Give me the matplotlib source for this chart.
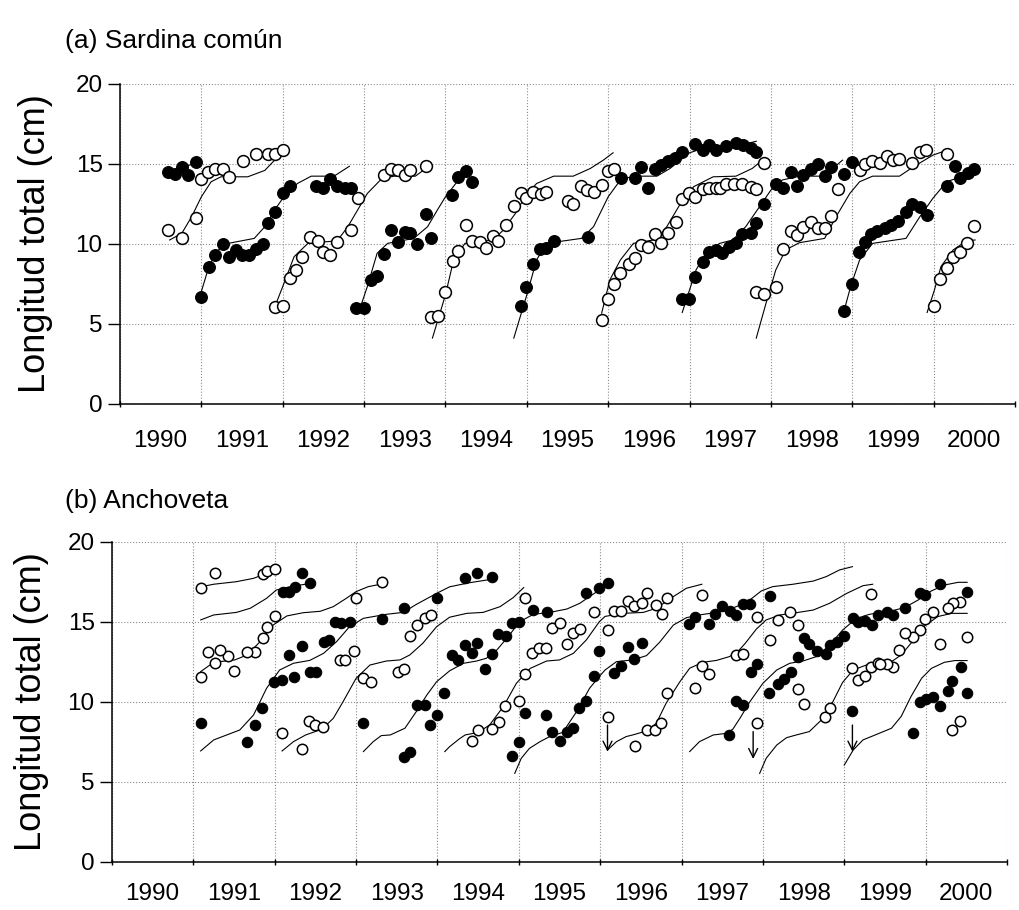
import matplotlib as mpl
import matplotlib.pyplot as plt
from matplotlib.ticker import FixedLocator, NullFormatter, FixedFormatter
# -------------------------------------------------------------------------------------------------

mpl.use('AGG')
plt.rcParams['font.family'] = ['Liberation Sans', 'DejaVu Sans']

year_labels = ['1990', '1991', '1992', '1993', '1994', '1995',
	'1996', '1997', '1998', '1999', '2000']

# (a) Sardina común: mean length by sample (year, cm)
sardina_filled = [
	(1990.59, 14.5), (1990.67, 14.37), (1990.76, 14.8), (1990.84, 14.3), (1990.93, 15.1),
	(1991.0, 6.67), (1991.09, 8.59), (1991.17, 9.3), (1991.27, 10.0), (1991.34, 9.17),
	(1991.42, 9.63), (1991.5, 9.3), (1991.58, 9.3), (1991.67, 9.67), (1991.76, 10.0),
	(1991.82, 11.3), (1991.91, 12.0), (1992.0, 13.16), (1992.09, 13.6), (1992.41, 13.6),
	(1992.5, 13.5), (1992.58, 14.05), (1992.67, 13.6), (1992.76, 13.5), (1992.84, 13.5),
	(1992.9, 5.97), (1993.0, 5.97), (1993.09, 7.75), (1993.16, 8.0), (1993.24, 9.4),
	(1993.33, 10.9), (1993.42, 10.1), (1993.5, 10.77), (1993.57, 10.67), (1993.65, 10.0),
	(1993.76, 11.9), (1993.82, 10.4), (1994.08, 13.06), (1994.16, 14.2), (1994.25, 14.55),
	(1994.33, 13.9),
	(1994.93, 6.15), (1994.99, 7.3), (1995.08, 8.75), (1995.16, 9.67), (1995.23, 9.73),
	(1995.33, 10.2), (1995.75, 10.46), (1996.16, 14.14), (1996.33, 14.14), (1996.4, 14.82),
	(1996.49, 13.47), (1996.58, 14.68), (1996.65, 14.93), (1996.73, 15.2), (1996.82, 15.38),
	(1996.91, 15.76), (1997.07, 16.24), (1997.16, 15.86), (1997.24, 16.17), (1997.33, 15.9),
	(1997.45, 16.1), (1997.57, 16.3), (1997.66, 16.17), (1997.75, 16.03), (1997.82, 15.76),
	(1996.91, 6.57), (1996.99, 6.57), (1997.07, 7.92), (1997.16, 8.9), (1997.24, 9.52),
	(1997.33, 9.63), (1997.4, 9.42), (1997.49, 9.83), (1997.57, 10.08), (1997.65, 10.6),
	(1997.75, 10.67), (1997.82, 11.29), (1997.92, 12.5), (1998.06, 13.72), (1998.15, 13.47),
	(1998.25, 14.5), (1998.32, 13.6), (1998.4, 14.3), (1998.49, 14.66), (1998.58, 15.03),
	(1998.66, 14.24), (1998.74, 14.82), (1998.9, 14.4), (1999.0, 15.1),
	(1998.9, 5.84), (1999.0, 7.48), (1999.08, 9.52), (1999.16, 10.1), (1999.23, 10.62),
	(1999.31, 10.83), (1999.4, 10.98), (1999.48, 11.18), (1999.56, 11.46), (1999.66, 12.0),
	(1999.73, 12.5), (1999.83, 12.29), (1999.92, 11.8), (2000.16, 13.6), (2000.26, 14.9),
	(2000.33, 14.1), (2000.42, 14.45), (2000.5, 14.7),
]
sardina_open = [
	(1990.59, 10.9), (1990.76, 10.4), (1990.93, 11.6), (1991.0, 14.05), (1991.08, 14.5),
	(1991.17, 14.7), (1991.27, 14.7), (1991.34, 14.2), (1991.51, 15.2), (1991.67, 15.65),
	(1991.82, 15.6), (1991.9, 15.6), (1992.0, 15.9),
	(1991.9, 6.05), (1992.0, 6.15), (1992.09, 7.86), (1992.16, 8.38), (1992.24, 9.2),
	(1992.34, 10.46), (1992.43, 10.19), (1992.5, 9.52), (1992.58, 9.31), (1992.67, 10.1),
	(1992.84, 10.9), (1992.92, 12.9), (1993.24, 14.3), (1993.33, 14.7), (1993.42, 14.6),
	(1993.5, 14.3), (1993.57, 14.6), (1993.76, 14.9),
	(1993.82, 5.43), (1993.91, 5.5), (1994.0, 7.0), (1994.09, 8.94), (1994.16, 9.56),
	(1994.25, 11.2), (1994.33, 10.19), (1994.42, 10.1), (1994.5, 9.77), (1994.59, 10.5),
	(1994.65, 10.2), (1994.74, 11.2), (1994.84, 12.4), (1994.93, 13.16), (1994.99, 12.9),
	(1995.08, 13.26), (1995.17, 13.1), (1995.23, 13.26), (1995.51, 12.7), (1995.57, 12.5),
	(1995.66, 13.6), (1995.74, 13.37), (1995.82, 13.26), (1995.92, 13.68), (1996.0, 14.55),
	(1996.07, 14.7),
	(1995.92, 5.26), (1996.0, 6.57), (1996.07, 7.48), (1996.15, 8.17), (1996.25, 8.73),
	(1996.33, 9.1), (1996.4, 9.94), (1996.49, 9.83), (1996.58, 10.6), (1996.65, 10.08),
	(1996.73, 10.7), (1996.83, 11.35), (1996.91, 12.8), (1996.99, 13.16), (1997.07, 12.95),
	(1997.16, 13.43), (1997.24, 13.47), (1997.33, 13.47), (1997.37, 13.53), (1997.45, 13.72),
	(1997.55, 13.72), (1997.65, 13.78), (1997.75, 13.58), (1997.82, 13.43), (1997.92, 15.07),
	(1997.82, 7.03), (1997.91, 6.88), (1998.06, 7.3), (1998.15, 9.67), (1998.25, 10.81),
	(1998.32, 10.56), (1998.4, 11.04), (1998.49, 11.39), (1998.58, 11.02), (1998.66, 11.02),
	(1998.74, 11.77), (1998.83, 13.41), (1999.09, 14.6), (1999.16, 14.97), (1999.24, 15.2),
	(1999.34, 15.07), (1999.43, 15.5), (1999.5, 15.24), (1999.58, 15.3), (1999.74, 15.07),
	(1999.83, 15.76), (1999.91, 15.86), (2000.16, 15.6),
	(2000.0, 6.15), (2000.08, 7.8), (2000.16, 8.48), (2000.24, 9.17), (2000.33, 9.48),
	(2000.41, 10.08), (2000.5, 11.12),
]
# growth curves, one per cohort
sardina_curves = [
	[(1990.70, 14.6), (1990.98, 15.2)],
	[(1990.61, 10.25), (1990.76, 10.67), (1990.88, 11.7), (1991.0, 12.95), (1991.12, 13.89),
	 (1991.24, 14.2), (1991.57, 14.2), (1991.78, 14.6), (1991.9, 15.24), (1992.0, 15.76)],
	[(1991.0, 7.03), (1991.08, 8.38), (1991.18, 9.52), (1991.33, 10.04), (1991.65, 10.35),
	 (1991.78, 11.08), (1991.9, 12.12), (1992.0, 12.85), (1992.18, 13.78), (1992.35, 14.24),
	 (1992.63, 14.24), (1992.82, 14.86)],
	[(1991.92, 6.3), (1992.0, 7.34), (1992.14, 9.21), (1992.31, 10.04), (1992.67, 10.2),
	 (1992.8, 11.08), (1993.04, 13.16), (1993.22, 14.1), (1993.37, 14.24), (1993.63, 14.24),
	 (1993.78, 14.8)],
	[(1992.95, 5.99), (1993.04, 7.34), (1993.16, 9.42), (1993.29, 10.04), (1993.61, 10.35),
	 (1993.78, 11.08), (1993.9, 12.12), (1994.0, 12.95), (1994.16, 14.0), (1994.27, 14.3)],
	[(1993.84, 4.12), (1994.0, 6.82), (1994.1, 9.0), (1994.24, 10.04), (1994.59, 10.25),
	 (1994.71, 10.87), (1994.86, 11.91), (1994.99, 13.06), (1995.12, 13.78), (1995.33, 14.24),
	 (1995.57, 14.24), (1995.78, 14.72), (1995.94, 15.24), (1996.06, 15.7)],
	[(1994.84, 4.12), (1995.0, 6.82), (1995.12, 9.0), (1995.24, 10.04), (1995.67, 10.35),
	 (1995.82, 11.08), (1996.0, 12.95), (1996.15, 14.0), (1996.31, 14.24), (1996.6, 14.24),
	 (1996.76, 14.72), (1997.0, 15.7), (1997.12, 15.9), (1997.36, 16.1), (1997.61, 16.17),
	 (1997.82, 16.42)],
	[(1995.92, 5.68), (1996.02, 7.75), (1996.15, 9.0), (1996.31, 10.04), (1996.6, 10.29),
	 (1996.72, 11.08), (1996.89, 12.54), (1997.05, 13.58), (1997.29, 14.2), (1997.57, 14.24),
	 (1997.77, 14.72), (1997.92, 15.34)],
	[(1996.91, 5.72), (1997.0, 7.13), (1997.08, 8.38), (1997.2, 9.42), (1997.37, 10.04),
	 (1997.53, 10.25), (1997.69, 11.08), (1997.86, 12.33), (1998.0, 13.37), (1998.14, 14.0),
	 (1998.35, 14.24), (1998.6, 14.24), (1998.76, 14.72), (1998.88, 15.24)],
	[(1997.82, 4.12), (1997.94, 6.3), (1998.06, 8.38), (1998.18, 9.63), (1998.35, 10.08),
	 (1998.66, 10.35), (1998.8, 11.7), (1998.97, 13.16), (1999.09, 13.89), (1999.25, 14.24),
	 (1999.58, 14.24), (1999.75, 14.82), (1999.99, 15.55), (2000.16, 15.86)],
	[(1998.9, 5.84), (1998.98, 7.34), (1999.09, 9.0), (1999.25, 10.04), (1999.66, 10.35),
	 (1999.83, 11.7), (1999.99, 12.85), (2000.16, 13.89), (2000.36, 14.24), (2000.5, 14.62)],
	[(1999.92, 5.72), (2000.01, 7.13), (2000.09, 8.59), (2000.24, 9.63), (2000.41, 10.21),
	 (2000.51, 10.25)],
]

# (b) Anchoveta
anchoveta_filled = [
	(1991.09, 8.67), (1991.66, 7.48), (1991.76, 8.56), (1991.84, 9.65),
	(1991.99, 11.27), (1992.09, 11.38), (1992.24, 11.54), (1992.43, 11.9), (1992.51, 11.9),
	(1992.17, 12.94), (1992.34, 13.52), (1992.6, 13.73), (1992.67, 13.88),
	(1992.74, 15.02), (1992.82, 14.92), (1992.92, 15.02),
	(1992.1, 16.86), (1992.17, 16.86), (1992.25, 17.2), (1992.34, 18.04), (1992.43, 17.42),
	(1993.32, 15.19), (1993.59, 15.86), (1993.99, 16.52),
	(1993.08, 8.67), (1993.59, 6.54), (1993.66, 6.9), (1993.75, 9.81), (1993.85, 9.81),
	(1993.91, 8.56), (1993.99, 9.19), (1994.08, 10.54), (1994.18, 12.92), (1994.25, 12.63),
	(1994.34, 17.73), (1994.49, 18.04), (1994.67, 17.84), (1995.17, 15.75), (1995.35, 15.6),
	(1995.83, 16.79), (1995.98, 17.12), (1996.09, 17.42),
	(1994.92, 14.92), (1995.0, 15.02), (1994.75, 14.25), (1994.84, 14.15), (1994.34, 13.57),
	(1994.49, 13.67), (1994.42, 13.04), (1994.67, 13.0), (1994.58, 12.06),
	(1995.93, 11.6), (1995.83, 10.09), (1995.74, 9.65), (1995.07, 9.29), (1995.34, 9.19),
	(1995.41, 8.15), (1995.5, 7.58), (1995.59, 8.15), (1995.66, 8.4), (1995.0, 7.48),
	(1994.92, 6.63), (1995.98, 13.17),
	(1996.34, 13.46), (1996.51, 13.71), (1996.25, 12.27), (1996.42, 12.69), (1996.17, 11.79),
	(1997.09, 14.88), (1997.16, 15.29), (1997.34, 14.88), (1997.41, 15.5), (1997.5, 16.02),
	(1997.59, 15.71), (1997.67, 15.44),
	(1997.58, 7.94), (1997.67, 10.09), (1997.76, 9.82),
	(1997.76, 16.13), (1997.84, 16.13), (1998.09, 16.65),
	(1998.51, 13.98), (1998.57, 13.61), (1998.66, 13.21), (1998.77, 13.0), (1998.83, 13.57),
	(1998.91, 13.73), (1999.0, 14.13), (1999.11, 15.23), (1999.17, 15.02), (1999.25, 15.09),
	(1999.34, 14.81), (1999.41, 15.44),
	(1997.85, 11.9), (1997.93, 12.36), (1998.43, 12.84),
	(1998.08, 10.54), (1998.18, 11.11), (1998.26, 11.44), (1998.34, 11.9),
	(1999.1, 9.44),
	(2000.18, 17.36), (2000.51, 16.9), (1999.93, 16.79), (1999.99, 16.69), (1999.75, 15.9),
	(1999.6, 15.44), (1999.52, 15.6),
	(2000.43, 12.17), (2000.32, 11.34), (2000.27, 10.69), (2000.51, 10.55), (2000.09, 10.34),
	(2000.01, 10.19), (1999.93, 9.98), (2000.18, 9.77), (1999.85, 8.04),
]
anchoveta_open = [
	(1991.09, 17.15), (1991.26, 18.04), (1991.85, 18.0), (1991.91, 18.2), (1992.0, 18.3),
	(1992.0, 15.4), (1991.91, 14.71), (1991.85, 13.98), (1991.76, 13.15), (1991.66, 13.1),
	(1991.43, 12.9), (1991.33, 13.25), (1991.18, 13.1), (1991.26, 12.42), (1991.5, 11.96),
	(1991.09, 11.54),
	(1992.09, 8.04), (1992.42, 8.81), (1992.5, 8.56), (1992.59, 8.46), (1992.34, 7.07),
	(1993.0, 16.52), (1993.32, 17.48), (1993.66, 14.15), (1993.75, 14.81), (1993.85, 15.27),
	(1993.92, 15.44),
	(1992.8, 12.63), (1992.86, 12.63), (1992.97, 13.19), (1993.08, 11.48), (1993.18, 11.27),
	(1993.51, 11.86), (1993.59, 12.06),
	(1995.07, 16.52), (1995.93, 15.6), (1995.41, 14.6), (1995.5, 14.92), (1995.66, 14.29),
	(1995.75, 14.54), (1995.59, 13.6), (1995.16, 13.09), (1995.25, 13.36), (1995.34, 13.36),
	(1995.07, 11.75), (1995.0, 10.09), (1994.83, 9.75), (1994.76, 8.77), (1994.67, 8.29),
	(1994.5, 8.25), (1994.42, 7.58),
	(1996.17, 15.69), (1996.25, 15.69), (1996.34, 16.34), (1996.42, 16.02), (1996.51, 16.21),
	(1996.58, 16.8), (1996.68, 16.06), (1996.76, 15.5), (1996.82, 16.52), (1997.25, 16.69),
	(1996.09, 14.5),
	(1997.67, 12.94), (1997.25, 12.27), (1997.34, 11.75), (1997.16, 10.9), (1996.82, 10.54),
	(1996.09, 9.04), (1996.43, 7.27), (1996.58, 8.25), (1996.67, 8.25), (1996.75, 8.67),
	(1999.33, 16.73), (1997.93, 15.3), (1998.18, 15.1), (1998.33, 15.6), (1998.43, 14.81),
	(1998.09, 13.88), (1997.76, 13.0),
	(1998.43, 10.79), (1998.51, 9.86),
	(1997.93, 8.67), (1998.76, 9.09), (1998.82, 9.6),
	(1999.1, 12.11), (1999.17, 11.38), (1999.25, 11.65), (1999.33, 12.21), (1999.41, 12.42),
	(2000.42, 16.23), (2000.34, 16.17), (2000.27, 15.86), (2000.09, 15.65), (1999.99, 15.19),
	(1999.93, 14.5), (1999.85, 14.09), (1999.75, 14.3), (1999.67, 13.25), (2000.51, 14.09),
	(2000.18, 13.61),
	(1999.6, 12.21), (1999.52, 12.36), (1999.44, 12.36),
	(2000.42, 8.84), (2000.32, 8.25),
]
anchoveta_curves = [
	[(1991.09, 17.2), (1991.25, 17.36), (1991.53, 17.52), (1991.74, 17.73), (1991.9, 18.04),
	 (1992.0, 18.25)],
	[(1991.09, 15.13), (1991.25, 15.44), (1991.53, 15.6), (1991.7, 15.86), (1991.9, 16.48),
	 (1992.02, 17.0), (1992.19, 17.21), (1992.45, 17.42)],
	[(1991.09, 11.9), (1991.25, 12.48), (1991.51, 12.63), (1991.66, 12.94), (1991.82, 13.77),
	 (1991.98, 14.81), (1992.15, 15.38), (1992.35, 15.58), (1992.56, 15.67), (1992.72, 15.96),
	 (1992.88, 16.48), (1993.0, 16.9), (1993.15, 17.21), (1993.32, 17.38)],
	[(1991.09, 6.94), (1991.25, 7.63), (1991.41, 7.94), (1991.57, 8.25), (1991.74, 9.19),
	 (1991.9, 10.86), (1992.06, 12.0), (1992.23, 12.42), (1992.43, 12.6), (1992.6, 13.04),
	 (1992.76, 13.77), (1992.92, 14.71), (1993.09, 15.23), (1993.37, 15.48), (1993.58, 15.6),
	 (1993.74, 16.1), (1993.99, 16.79), (1994.15, 17.2), (1994.4, 17.46), (1994.69, 17.69)],
	[(1992.09, 6.94), (1992.23, 7.52), (1992.38, 7.94), (1992.58, 8.3), (1992.72, 8.98),
	 (1992.84, 10.02), (1993.0, 11.48), (1993.17, 12.31), (1993.37, 12.56), (1993.54, 12.63),
	 (1993.66, 12.94), (1993.82, 13.67), (1993.99, 14.71), (1994.15, 15.3), (1994.36, 15.54),
	 (1994.56, 15.6), (1994.77, 15.96), (1994.93, 16.52), (1995.06, 17.15)],
	[(1993.09, 6.9), (1993.21, 7.52), (1993.31, 7.9), (1993.42, 7.94), (1993.6, 8.36),
	 (1993.74, 9.4), (1993.87, 10.44), (1993.99, 11.27), (1994.15, 11.95), (1994.32, 12.42),
	 (1994.48, 12.56), (1994.6, 12.73), (1994.73, 13.25), (1994.87, 14.09), (1995.01, 15.02),
	 (1995.18, 15.48), (1995.38, 15.6), (1995.59, 15.81), (1995.75, 16.17), (1995.87, 16.59),
	 (1995.99, 17.0), (1996.08, 17.36)],
	[(1994.09, 6.9), (1994.15, 7.21), (1994.27, 7.7), (1994.34, 7.94), (1994.5, 8.1),
	 (1994.64, 8.56), (1994.81, 9.71), (1994.97, 11.17), (1995.14, 12.1), (1995.34, 12.56),
	 (1995.5, 12.63), (1995.67, 13.04), (1995.83, 13.88), (1995.99, 15.02), (1996.06, 15.35),
	 (1996.28, 15.54), (1996.53, 15.6), (1996.69, 15.86), (1996.9, 16.59), (1997.06, 17.11),
	 (1997.25, 17.36)],
	[(1994.95, 5.54), (1995.03, 6.48), (1995.13, 7.1), (1995.26, 7.52), (1995.38, 7.84),
	 (1995.54, 8.1), (1995.71, 9.4), (1995.87, 10.86), (1995.99, 11.6), (1996.06, 12.0),
	 (1996.2, 12.52), (1996.4, 12.63), (1996.57, 12.9), (1996.73, 13.73), (1996.9, 14.81),
	 (1997.06, 15.27), (1997.22, 15.44), (1997.43, 15.6), (1997.59, 15.79), (1997.72, 16.06),
	 (1997.84, 16.38), (1997.98, 16.94), (1998.12, 17.21), (1998.37, 17.36), (1998.62, 17.56),
	 (1998.78, 17.84), (1998.94, 18.25), (1999.1, 18.46)],
	[(1996.09, 7.0), (1996.2, 7.52), (1996.32, 7.84), (1996.4, 7.94), (1996.57, 8.19),
	 (1996.69, 8.67), (1996.81, 9.92), (1996.98, 11.27), (1997.1, 12.11), (1997.26, 12.48),
	 (1997.43, 12.6), (1997.59, 12.84), (1997.7, 13.2), (1997.78, 13.65), (1997.92, 14.56),
	 (1998.04, 15.13), (1998.21, 15.44), (1998.41, 15.58), (1998.62, 15.75), (1998.82, 16.17),
	 (1999.03, 16.79), (1999.23, 17.27), (1999.35, 17.36)],
	[(1997.1, 6.9), (1997.22, 7.52), (1997.39, 7.94), (1997.55, 8.04), (1997.63, 8.3),
	 (1997.72, 9.0), (1997.84, 10.02), (1998.0, 11.17), (1998.17, 12.0), (1998.33, 12.42),
	 (1998.49, 12.56), (1998.66, 12.84), (1998.82, 13.56), (1998.98, 14.5), (1999.15, 15.23),
	 (1999.31, 15.48), (1999.45, 15.6), (1999.58, 15.69), (1999.74, 15.9), (1999.91, 16.38),
	 (2000.07, 16.94), (2000.23, 17.31), (2000.4, 17.48), (2000.51, 17.48)],
	[(1997.96, 5.54), (1998.04, 6.48), (1998.17, 7.31), (1998.29, 7.77), (1998.41, 7.94),
	 (1998.57, 8.15), (1998.74, 8.98), (1998.86, 10.02), (1998.98, 11.23), (1999.11, 12.0),
	 (1999.27, 12.31), (1999.43, 12.45), (1999.58, 12.52), (1999.7, 12.94), (1999.87, 13.98),
	 (1999.99, 14.77), (2000.15, 15.34), (2000.32, 15.54), (2000.51, 15.54)],
	[(1999.0, 6.06), (1999.11, 7.0), (1999.23, 7.63), (1999.38, 7.94), (1999.58, 8.36),
	 (1999.7, 9.1), (1999.82, 10.34), (1999.95, 11.48), (2000.07, 12.1), (2000.23, 12.48),
	 (2000.36, 12.59), (2000.51, 12.59)],
]
# downward arrows: (year, from cm, to cm)
anchoveta_arrows = [(1996.09, 8.56, 6.9), (1997.88, 8.15, 6.44), (1999.1, 8.56, 6.9)]


# -------------------------------------------------------------------------------------------------
def draw_panel(ax, filled, opened, curves, msize, label_pad):
	for curve in curves:
		(xs, ys) = zip(*curve)
		ax.plot(xs, ys, color='black', linewidth=0.8, zorder=2)

	(xs, ys) = zip(*filled)
	ax.plot(xs, ys, 'o', ms=msize, mfc='black', mec='black', mew=0.8, ls='none', zorder=3)
	(xs, ys) = zip(*opened)
	ax.plot(xs, ys, 'o', ms=msize, mfc='white', mec='black', mew=1.1, ls='none', zorder=4)

	ax.set_xlim(1990, 2001)
	ax.set_ylim(0, 20)

	# major ticks mark the year boundaries, labels sit mid-year
	ax.xaxis.set_major_locator(FixedLocator(range(1990, 2002)))
	ax.xaxis.set_major_formatter(NullFormatter())
	ax.xaxis.set_minor_locator(FixedLocator([1990.5 + i for i in range(len(year_labels))]))
	ax.xaxis.set_minor_formatter(FixedFormatter(year_labels))
	ax.tick_params(axis='x', which='major', direction='inout', length=5, width=1)
	ax.tick_params(axis='x', which='minor', length=0, pad=label_pad, labelsize=17.5)

	ax.set_yticks([0, 5, 10, 15, 20])
	ax.tick_params(axis='y', direction='out', length=8.5, width=1, pad=4, labelsize=17.5)

	ax.grid(True, which='major', color='#8c8c8c', linestyle=':', linewidth=0.8)
	for side in ('top', 'right'):
		ax.spines[side].set_visible(False)
	for side in ('left', 'bottom'):
		ax.spines[side].set_linewidth(1.1)


fig = plt.figure(figsize=(10.19, 9.10), dpi=100, facecolor='white')

ax1 = fig.add_axes([120 / 1019, 1 - 404 / 910, 895 / 1019, 320 / 910])
draw_panel(ax1, sardina_filled, sardina_open, sardina_curves, 8.5, 19)

ax2 = fig.add_axes([112 / 1019, 1 - 862 / 910, 895 / 1019, 320 / 910])
draw_panel(ax2, anchoveta_filled, anchoveta_open, anchoveta_curves, 7.5, 15)

for (x, y_from, y_to) in anchoveta_arrows:
	ax2.annotate('', xy=(x, y_to), xytext=(x, y_from),
		arrowprops=dict(arrowstyle='->', color='black', lw=1, shrinkA=0, shrinkB=0,
			mutation_scale=16), zorder=5
	)

fig.text(65 / 1019, 1 - 41 / 910, '(a) Sardina común', fontsize=19, ha='left', va='center')
fig.text(65 / 1019, 1 - 501 / 910, '(b) Anchoveta', fontsize=19, ha='left', va='center')

fig.text(36 / 1019, 1 - 244 / 910, 'Longitud total (cm)', fontsize=26,
	rotation=90, ha='center', va='center')
fig.text(32 / 1019, 1 - 702 / 910, 'Longitud total (cm)', fontsize=26,
	rotation=90, ha='center', va='center')

fig.savefig('out.png', dpi=100)
plt.close()
